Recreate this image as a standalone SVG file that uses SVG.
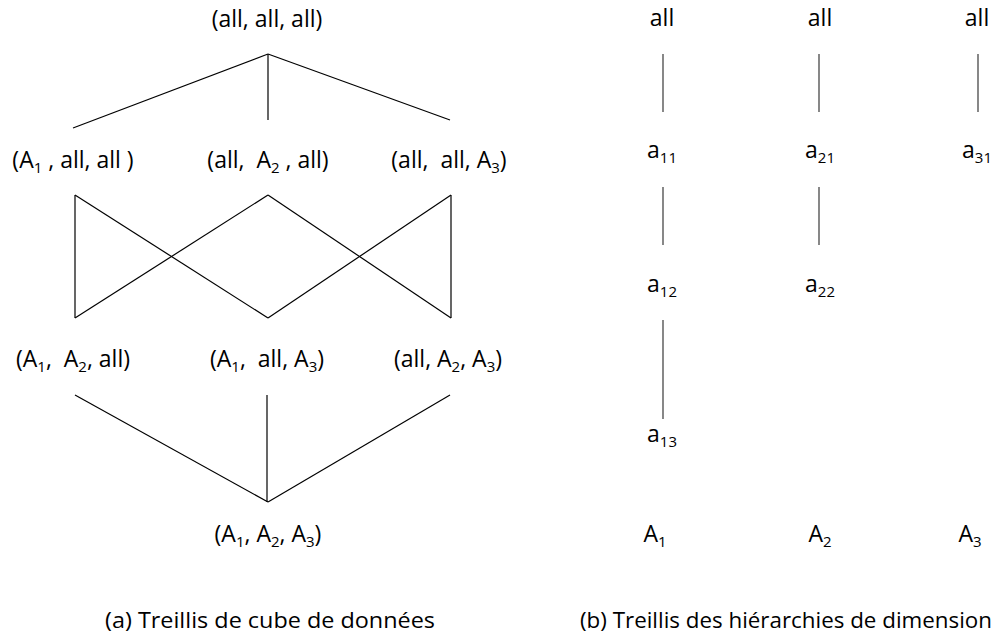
<svg xmlns="http://www.w3.org/2000/svg" width="997" height="640" viewBox="0 0 997 640" xml:space="preserve">
  <style>
    text { font-family: "Open Sans", "Noto Sans", "Liberation Sans", sans-serif; font-size: 23px; fill: #000; text-anchor: middle; white-space: pre; }
    .sub { font-size: 15px; }
    .cap { text-anchor: start; font-size: 21px; }
    .edge { stroke: #000; stroke-width: 1.2; fill: none; }
    .hier { stroke: #555; stroke-width: 1.4; fill: none; }
  </style>
  <rect width="997" height="640" fill="#fff"/>

  <!-- connectors -->
  <g id="connectors">
    <!-- cube lattice: apex to 1-D cuboids -->
    <line class="edge" x1="268" y1="54" x2="73" y2="128"/>
    <line class="edge" x1="268" y1="54" x2="268" y2="120"/>
    <line class="edge" x1="268" y1="54" x2="450" y2="120"/>
    <!-- 1-D to 2-D cuboids -->
    <line class="edge" x1="75" y1="195" x2="75" y2="318"/>
    <line class="edge" x1="75" y1="195" x2="268" y2="318"/>
    <line class="edge" x1="268" y1="195" x2="75" y2="318"/>
    <line class="edge" x1="268" y1="195" x2="451" y2="318"/>
    <line class="edge" x1="451" y1="195" x2="268" y2="318"/>
    <line class="edge" x1="451" y1="195" x2="451" y2="318"/>
    <!-- 2-D cuboids to base cuboid -->
    <line class="edge" x1="75" y1="395" x2="268" y2="502"/>
    <line class="edge" x1="267" y1="395" x2="267" y2="502"/>
    <line class="edge" x1="450" y1="395" x2="268" y2="502"/>
    <!-- dimension hierarchies -->
    <line class="hier" x1="663" y1="54" x2="663" y2="112"/>
    <line class="hier" x1="663" y1="187" x2="663" y2="245"/>
    <line class="hier" x1="663" y1="320" x2="663" y2="419"/>
    <line class="hier" x1="819" y1="54" x2="819" y2="112"/>
    <line class="hier" x1="819" y1="187" x2="819" y2="245"/>
    <line class="hier" x1="978" y1="54" x2="978" y2="112"/>
  </g>

  <!-- cube lattice nodes -->
  <g id="n-all-all-all"><text x="267" y="27">(all, all, all)</text></g>

  <g id="n-A1-all-all"><text x="73" y="168">(A<tspan class="sub" dy="5">1</tspan><tspan dy="-5"> , all, all )</tspan></text></g>
  <g id="n-all-A2-all"><text x="268" y="168">(all,  A<tspan class="sub" dy="5">2</tspan><tspan dy="-5"> , all)</tspan></text></g>
  <g id="n-all-all-A3"><text x="449" y="168">(all,  all, A<tspan class="sub" dy="5">3</tspan><tspan dy="-5">)</tspan></text></g>

  <g id="n-A1-A2-all"><text x="73" y="367">(A<tspan class="sub" dy="5">1</tspan><tspan dy="-5">,  A</tspan><tspan class="sub" dy="5">2</tspan><tspan dy="-5">, all)</tspan></text></g>
  <g id="n-A1-all-A3"><text x="267" y="367">(A<tspan class="sub" dy="5">1</tspan><tspan dy="-5">,  all, A</tspan><tspan class="sub" dy="5">3</tspan><tspan dy="-5">)</tspan></text></g>
  <g id="n-all-A2-A3"><text x="448" y="367">(all, A<tspan class="sub" dy="5">2</tspan><tspan dy="-5">, A</tspan><tspan class="sub" dy="5">3</tspan><tspan dy="-5">)</tspan></text></g>

  <g id="n-A1-A2-A3"><text x="268" y="542">(A<tspan class="sub" dy="5">1</tspan><tspan dy="-5">, A</tspan><tspan class="sub" dy="5">2</tspan><tspan dy="-5">, A</tspan><tspan class="sub" dy="5">3</tspan><tspan dy="-5">)</tspan></text></g>

  <!-- dimension hierarchy nodes -->
  <g id="h1-all"><text x="662" y="26">all</text></g>
  <g id="h2-all"><text x="820" y="26">all</text></g>
  <g id="h3-all"><text x="977" y="26">all</text></g>

  <g id="h-a11"><text x="662" y="158">a<tspan class="sub" dy="5">11</tspan></text></g>
  <g id="h-a21"><text x="820" y="158">a<tspan class="sub" dy="5">21</tspan></text></g>
  <g id="h-a31"><text x="977" y="158">a<tspan class="sub" dy="5">31</tspan></text></g>

  <g id="h-a12"><text x="662" y="292">a<tspan class="sub" dy="5">12</tspan></text></g>
  <g id="h-a22"><text x="820" y="292">a<tspan class="sub" dy="5">22</tspan></text></g>

  <g id="h-a13"><text x="662" y="442">a<tspan class="sub" dy="5">13</tspan></text></g>

  <g id="h-A1"><text x="655" y="542">A<tspan class="sub" dy="5">1</tspan></text></g>
  <g id="h-A2"><text x="820" y="542">A<tspan class="sub" dy="5">2</tspan></text></g>
  <g id="h-A3"><text x="970" y="542">A<tspan class="sub" dy="5">3</tspan></text></g>

  <!-- captions -->
  <g id="caption-a"><text class="cap" x="105" y="628" textLength="330" lengthAdjust="spacingAndGlyphs">(a) Treillis de cube de données</text></g>
  <g id="caption-b"><text class="cap" x="580" y="628" textLength="412" lengthAdjust="spacingAndGlyphs">(b) Treillis des hiérarchies de dimension</text></g>
</svg>
